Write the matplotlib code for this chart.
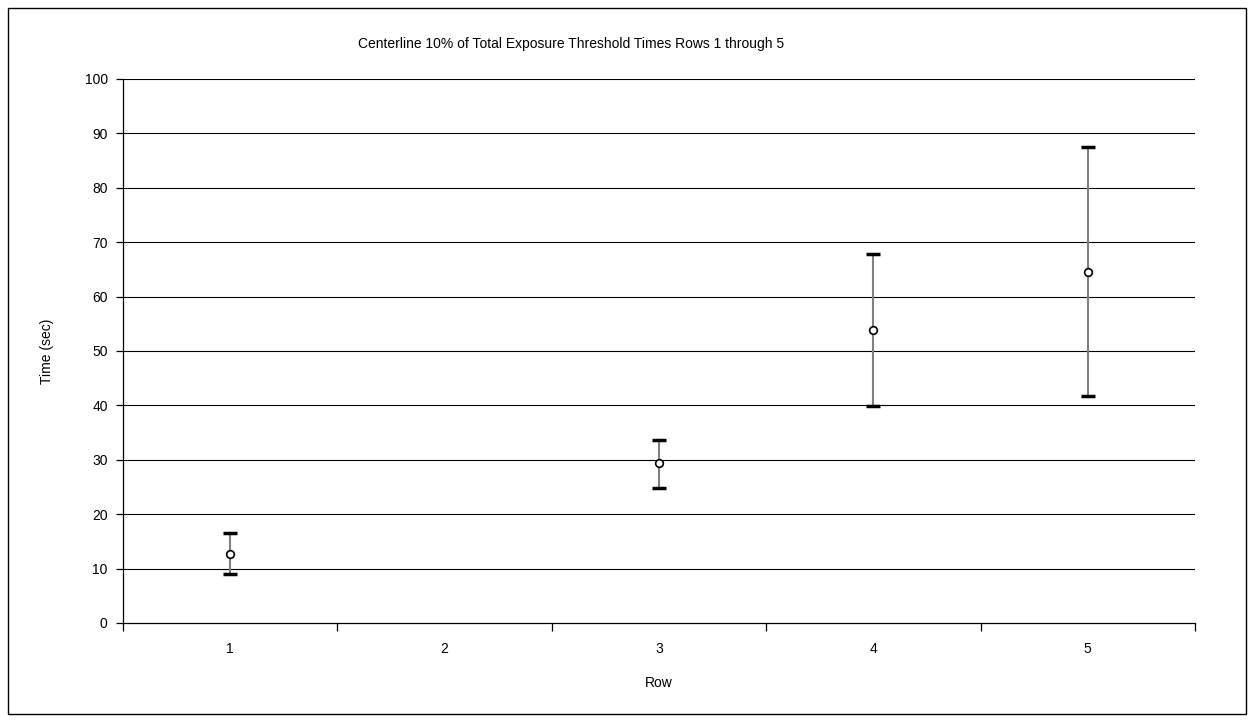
import matplotlib
matplotlib.use("Agg")
import matplotlib.pyplot as plt
import numpy as np
from matplotlib.patches import Rectangle

plt.rcParams['font.family'] = ['Liberation Sans', 'DejaVu Sans']

rows = ["1", "2", "3", "4", "5"]
row_pos = [1, 3, 4, 5]
means = [12.7, 29.4, 53.9, 64.5]
upper = [16.5, 33.6, 67.9, 87.5]
lower = [9.0, 24.9, 39.9, 41.8]
yticks = list(range(0, 101, 10))

W, H = 1254, 722
fig = plt.figure(figsize=(W / 100, H / 100), dpi=100)
ax = fig.add_axes([123 / W, 1 - 623 / H, (1195 - 123) / W, (623 - 79) / H])

# border around figure
fig.patches.append(Rectangle((8 / W, 8 / H), (1246 - 8) / W, (714 - 8) / H,
                             transform=fig.transFigure, fill=False,
                             edgecolor='black', linewidth=1))

ax.set_xlim(0.5, 5.5)
ax.set_ylim(0, 100)
for y in yticks[1:]:
    ax.axhline(y, color='black', linewidth=0.8, zorder=1)

m = np.array(means)
yerr = [m - np.array(lower), np.array(upper) - m]
ax.errorbar(row_pos, means, yerr=yerr, fmt='none', ecolor='#808080',
            elinewidth=1.5, capsize=0, zorder=2)
ax.scatter(row_pos, lower, marker='_', s=90, color='black', linewidths=2.5, zorder=3)
ax.scatter(row_pos, upper, marker='_', s=90, color='black', linewidths=2.5, zorder=3)
ax.plot(row_pos, means, linestyle='none', marker='o', markersize=5.5,
        markerfacecolor='white', markeredgecolor='black', markeredgewidth=1.2, zorder=4)

for s in ['top', 'right']:
    ax.spines[s].set_visible(False)
for s in ['left', 'bottom']:
    ax.spines[s].set_linewidth(0.9)

ax.set_yticks(yticks)
ax.set_yticklabels([str(v) for v in yticks], fontsize=10)
ax.set_xticks(np.arange(0.5, 5.6, 1.0))
ax.set_xticklabels([])
ax.set_xticks(range(1, 6), minor=True)
ax.set_xticklabels(rows, minor=True, fontsize=10)
ax.tick_params(axis='x', which='major', direction='out', length=6, width=0.9)
ax.tick_params(axis='x', which='minor', length=0, pad=14)
ax.tick_params(axis='y', direction='out', length=5, width=0.9, pad=6)

ax.set_xlabel("Row", fontsize=10, labelpad=14)
ax.set_ylabel("Time (sec)", fontsize=10, labelpad=22)
fig.text(571 / W, 1 - 44 / H, "Centerline 10% of Total Exposure Threshold Times Rows 1 through 5",
         ha='center', va='center', fontsize=10)

fig.savefig("out.png", dpi=100)
